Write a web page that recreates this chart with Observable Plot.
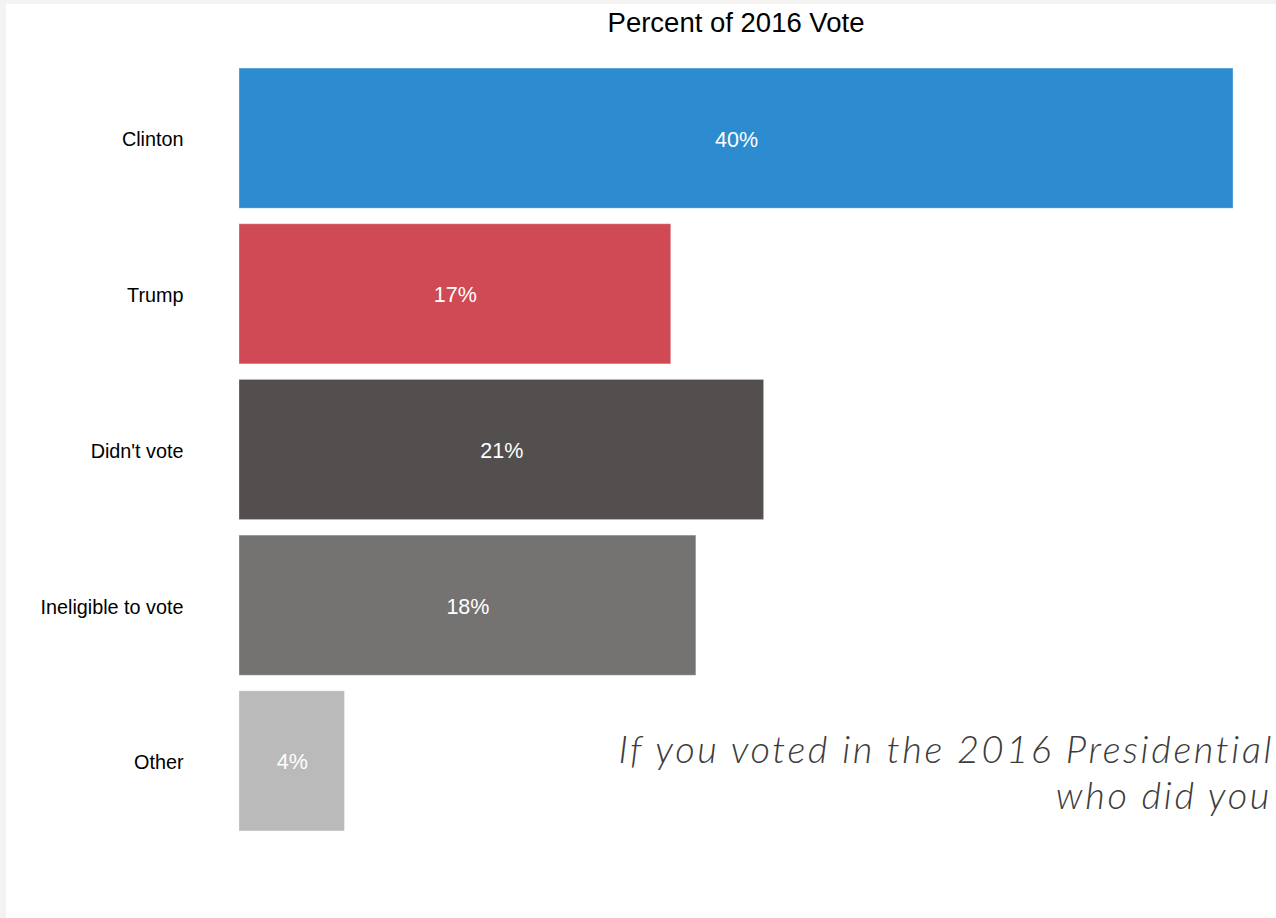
<!DOCTYPE html>
<html>
<head>
<meta charset="utf-8">
<script src="https://cdn.jsdelivr.net/npm/d3@7"></script>
<script src="https://cdn.jsdelivr.net/npm/@observablehq/plot@0.6"></script>
<style>
  html, body { margin: 0; padding: 0; width: 1276px; height: 918px; overflow: hidden; background: #f4f3f1; }
  #panel { position: absolute; left: 6px; top: 4px; width: 1270px; height: 914px; background: #fff; overflow: hidden; }
  #title { position: absolute; left: 233px; width: 994px; top: 3px; text-align: center;
           font-family: "Liberation Sans", Arial, sans-serif; font-size: 27.5px; color: #000; }
  #note { position: absolute; right: 2px; top: 721px; text-align: right;
          font-family: Lato, "Open Sans", sans-serif; font-style: italic; font-weight: 300;
          font-size: 38px; line-height: 46px; color: #3c3c3c; white-space: nowrap; }
  #note span.l2 { margin-right: 2px; }
  #chart { position: absolute; left: 0; top: 0; }
</style>
</head>
<body>
<div id="panel">
  <div id="chart"></div>
  <div id="title">Percent of 2016 Vote</div>
  <div id="note"><span class="l1">If you voted in the 2016 Presidential</span><br><span class="l2">who did you</span></div>
</div>
<script>
const categories = ["Clinton", "Trump", "Didn't vote", "Ineligible to vote", "Other"];
const values = [39.6, 17.2, 20.9, 18.2, 4.2];
const colors = ["#2d8bcf", "#cf4a54", "#524f4e", "#747371", "#bababa"];

const data = categories.map((c, i) => ({category: c, value: values[i], color: colors[i]}));

const chart = Plot.plot({
  width: 1270,
  height: 914,
  marginLeft: 233,
  marginRight: 43,
  marginTop: 48.5,
  marginBottom: 71.5,
  style: {fontFamily: "'Liberation Sans', Arial, sans-serif", fontSize: "20px", background: "transparent"},
  x: {domain: [0, d3.max(values)], axis: null},
  y: {domain: categories, padding: 0.1, round: false, label: null, axis: null},
  marks: [
    Plot.barX(data, {x: "value", y: "category", fill: "color", stroke: "#ffffff", strokeOpacity: 0.3, strokeWidth: 1}),
    Plot.text(data, {x: d => d.value / 2, y: "category", text: d => Math.round(d.value) + "%", fill: "#ffffff", fontSize: 21.5, dy: 1}),
    Plot.axisY({tickSize: 0, tickPadding: 56, fontSize: 19.8, label: null, color: "#000", dy: 1.5})
  ]
});
document.getElementById("chart").appendChild(chart);

// fit the annotation's letter spacing so line 1 spans roughly as in the reference
const note = document.getElementById("note");
const l1 = note.querySelector(".l1");
const natural = l1.getBoundingClientRect().width;
const target = 655;
const ls = (target - natural) / l1.textContent.length;
note.style.letterSpacing = ls + "px";
</script>
</body>
</html>
